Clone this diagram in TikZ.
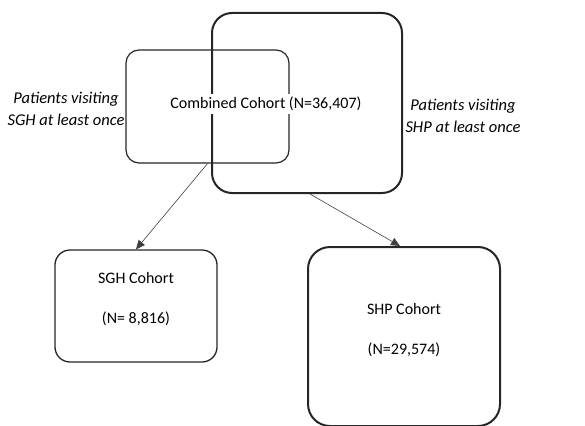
\documentclass[tikz,border=0pt]{standalone}
\usepackage{fontspec}
\setmainfont{Carlito}
\usetikzlibrary{arrows.meta}
\begin{document}
\begin{tikzpicture}[x=1pt,y=-1pt,
  box/.style={draw=black!85,rounded corners=#1,inner sep=0pt},
  lbl/.style={font=\fontsize{16.5}{22}\selectfont\itshape,align=center,inner sep=0pt},
  txt/.style={font=\fontsize{16}{20}\selectfont,align=center,inner sep=0pt},
  conn/.style={draw=black!75,line width=0.6pt,-{Triangle[length=9pt,width=8pt]}}]
\useasboundingbox (0,0) rectangle (585,425);
\clip (0,0) rectangle (585,425);
% Venn boxes
\node[box=13pt,line width=1.2pt,minimum width=163pt,minimum height=113pt] (sghv) at (207.5,106.5) {};
\node[box=20pt,line width=2pt,minimum width=190pt,minimum height=180pt] (shpv) at (307,103) {};
\node[txt,fill=white,inner xsep=1pt,inner ysep=3pt] (comb) at (266,104) {Combined Cohort (N=36,407)};
\node[lbl] (lsgh) at (66,109) {Patients visiting\\SGH at least once};
\node[lbl] (lshp) at (463,116) {Patients visiting\\SHP at least once};
% cohort boxes
\node[box=15pt,line width=1.3pt,minimum width=162pt,minimum height=112pt] (sghc) at (136,306) {};
\node[txt] (sght) at (136,299) {SGH Cohort\\[20pt](N= 8,816)};
\node[box=22pt,line width=2pt,minimum width=192pt,minimum height=179pt] (shpc) at (404,336.5) {};
\node[txt] (shpt) at (404,330) {SHP Cohort\\[20pt](N=29,574)};
% connectors
\draw[conn] (sghv.south) -- (sghc.north);
\draw[conn] ([xshift=3pt]shpv.south) -- ([xshift=-4pt]shpc.north);
\end{tikzpicture}
\end{document}
